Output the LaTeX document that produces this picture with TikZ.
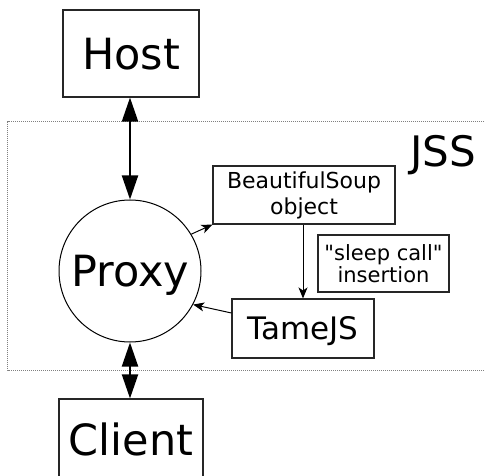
\documentclass[tikz,border=0pt]{standalone}
\usepackage{fontspec}
\setmainfont{DejaVu Sans}[Ligatures=TeXOff]
\usetikzlibrary{arrows.meta}
\begin{document}
\begin{tikzpicture}[x=1pt,y=-1pt,
  box/.style={draw=black!85,line width=1.1pt,inner sep=0pt},
  bigtext/.style={font=\fontsize{43}{52}\selectfont,text height=31.4pt,text depth=0pt},
  bothway/.style={line width=2pt,{Triangle[length=24pt,width=16pt]}-{Triangle[length=24pt,width=16pt]}},
  flow/.style={line width=1pt,-{Stealth[length=11pt,width=9pt,inset=3pt]}},
  region/.style={draw=gray,line width=1pt,dash pattern=on 1pt off 1pt}]
\useasboundingbox (0,0) rectangle (485,476);

% the JSS region, open on the right
\draw[region] (490,122) -- (7.5,122) -- (7.5,370) -- (490,370);
\node[font=\fontsize{42}{50}\selectfont,anchor=base west,inner sep=0pt] (jss) at (410,167) {JSS};

\node[box,bigtext,minimum width=136pt,minimum height=87pt] (host) at (131,53.5) {Host};
\node[box,bigtext,minimum width=144pt,minimum height=82pt] (client) at (131,440) {Client};
\node[draw=black,line width=1pt,circle,minimum size=142pt,inner sep=0pt,bigtext] (proxy) at (130,271) {Proxy};

\node[box,align=center,font=\fontsize{22}{26}\selectfont,minimum width=182pt,minimum height=58pt] (soup) at (304,195) {BeautifulSoup\\object};
\node[box,align=center,font=\fontsize{21}{22}\selectfont,minimum width=131pt,minimum height=57pt] (sleep) at (383.5,263.5) {"sleep call"\\insertion};
\node[box,font=\fontsize{31}{36}\selectfont,text height=22.6pt,text depth=0pt,minimum width=142pt,minimum height=59pt] (tame) at (303,328.5) {TameJS};

\draw[bothway] (host.south -| proxy.north) -- (proxy.north);
\draw[bothway] (proxy.south) -- (client.north -| proxy.south);

\draw[flow] (proxy.31) -- (soup.south west);
\draw[flow] (soup.south -| tame.north) -- (tame.north);
\draw[flow] (tame.west |- 0,313) -- (proxy.-28);
\end{tikzpicture}
\end{document}
